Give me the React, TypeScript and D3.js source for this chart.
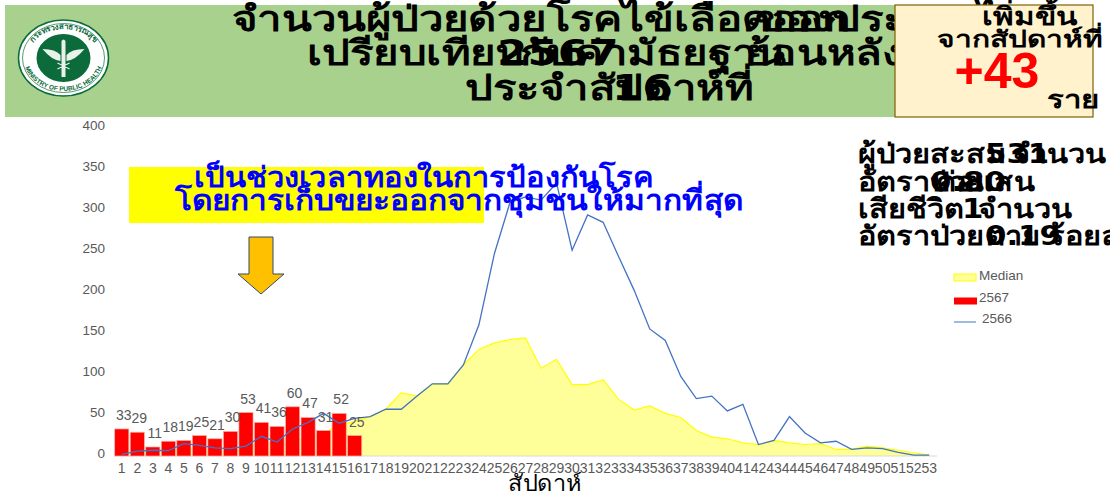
import { useEffect, useRef } from 'react'
import * as d3 from 'd3'

const weeks = d3.range(1, 54).map(String)
const cases2567 = [33, 29, 11, 18, 19, 25, 21, 30, 53, 41, 36, 60, 47, 31, 52, 25]
const cases2566 = [2, 6, 7, 6.5, 15, 13, 10, 9, 12, 24, 17, 33, 41, 52, 40, 46, 48, 57, 57, 73, 88, 88, 111, 160, 247, 309, 316, 312, 333, 251, 294, 285, 243, 202, 155, 141, 97, 70, 73, 55, 63, 14, 19, 48, 28, 16, 18, 8, 10, 9, 4.5, 1, 1]
const median = [4, 5, 6, 6, 8, 9, 9, 10, 12, 14, 16, 18, 22, 28, 38, 42, 48, 57, 77, 73, 88, 88, 111, 130, 138, 142, 144, 107, 118, 87, 87, 93, 69, 56, 61, 52, 47, 31, 23, 21, 16, 14, 19, 16, 14, 15, 8, 8, 12, 10, 7, 4, 1]
const yTicks = [0, 50, 100, 150, 200, 250, 300, 350, 400]
const legendItems = ['Median', '2567', '2566']

const thaiFont = '"DejaVu Sans", "Liberation Sans", "Noto Sans", sans-serif'
const latinFont = '"Liberation Sans", Arial, sans-serif'
const grey = '#595959'

// runs of overlapping text, as they sit on the slide
const titleRuns: [string, number, number][] = [
  ['จำนวนผู้ป่วยด้วยโรคไข้เลือดออก', 232, 31],
  ['ของประเทศไทย', 755, 31],
  ['เปรียบเทียบ', 307, 65],
  ['2567', 497, 65],
  ['กับค่ามัธยฐาน', 520, 65],
  ['ย้อนหลัง', 745, 65],
  ['ประจำสัปดาห์ที่', 465, 100],
  ['16', 612, 100],
]
const summaryRuns: [string, number, number][] = [
  ['ผู้ป่วยสะสม', 858, 163],
  ['531', 985, 163],
  ['จำนวน', 1012, 163],
  ['อัตราป่วย', 858, 191],
  ['0.80', 930, 191],
  ['ต่อแสน', 936, 191],
  ['เสียชีวิต', 858, 218],
  ['1', 962, 218],
  ['จำนวน', 978, 218],
  ['อัตราป่วยตาย', 858, 245],
  ['0.19', 985, 245],
  ['ร้อยละ', 1048, 245],
]

// the slide's Thai face is wider than what is installed, so stretch sideways
function Wide({ x, y, sx, size, fill = '#000', weight = 'bold', anchor = 'start', children }: any) {
  return (
    <text
      transform={`translate(${x},${y}) scale(${sx},1)`}
      textAnchor={anchor}
      fontFamily={thaiFont}
      fontWeight={weight}
      fontSize={size}
      fill={fill}
    >
      {children}
    </text>
  )
}

function Logo() {
  return (
    <g transform="translate(63.5,58)">
      <ellipse rx={45} ry={38} fill="#fff" stroke="#0b6b3a" strokeWidth={1.5} />
      <ellipse rx={41} ry={34.5} fill="none" stroke="#0b6b3a" strokeWidth={0.7} />
      <ellipse rx={27} ry={24} fill="#0b6b3a" />
      <path d="M-21,-9 Q-8,-9 -3,-3 L-3,3 Q-12,2 -21,-9Z M21,-9 Q8,-9 3,-3 L3,3 Q12,2 21,-9Z" fill="#e8f2ea" />
      <path d="M-2,-17 Q0,-20 2,-17 L2,19 L-2,19Z" fill="#e8f2ea" />
      <path d="M-6,5 Q0,9 6,5 M-6,11 Q0,7 6,11" fill="none" stroke="#e8f2ea" strokeWidth={1.2} />
      <defs>
        <path id="logo-top" d="M-36,0 A36,29 0 0 1 36,0" />
        <path id="logo-bottom" d="M-40,0 A40,33 0 0 0 40,0" />
      </defs>
      <text fontSize={8} fontWeight="bold" fill="#0b6b3a" fontFamily={thaiFont}>
        <textPath href="#logo-top" startOffset="50%" textAnchor="middle">กระทรวงสาธารณสุข</textPath>
      </text>
      <text fontSize={6.5} fontWeight="bold" fill="#0b6b3a" fontFamily={latinFont}>
        <textPath href="#logo-bottom" startOffset="50%" textAnchor="middle">MINISTRY OF PUBLIC HEALTH</textPath>
      </text>
    </g>
  )
}

export default function App() {
  const chartRef = useRef<SVGGElement>(null)

  useEffect(() => {
    if (!chartRef.current) return
    const g = d3.select(chartRef.current)
    g.selectAll('*').remove()

    const x = d3.scaleBand<string>().domain(weeks).range([114, 937]).paddingInner(0.09).paddingOuter(0.045)
    const cx = (i: number) => (x(weeks[i]) || 0) + x.bandwidth() / 2
    const y = d3.scaleLinear().domain([0, 400]).range([456, 128])

    // Median area
    const area = d3
      .area<number>()
      .x((_, i) => cx(i))
      .y0(y(0))
      .y1((d) => y(d))
    const medianLine = d3
      .line<number>()
      .x((_, i) => cx(i))
      .y((d) => y(d))
    g.append('path').datum(median).attr('fill', '#ffff99').attr('d', area)
    g.append('path')
      .datum(median)
      .attr('fill', 'none')
      .attr('stroke', '#ffff00')
      .attr('stroke-width', 1.2)
      .attr('d', medianLine)

    // Baseline
    g.append('line')
      .attr('x1', 114)
      .attr('x2', 937)
      .attr('y1', y(0))
      .attr('y2', y(0))
      .attr('stroke', '#d9d9d9')

    // Bars 2567
    g.selectAll('.bar')
      .data(cases2567)
      .enter()
      .append('rect')
      .attr('class', 'bar')
      .attr('x', (_, i) => x(weeks[i]) || 0)
      .attr('y', (d) => y(d))
      .attr('width', x.bandwidth())
      .attr('height', (d) => y(0) - y(d))
      .attr('fill', '#ff0000')
      .attr('stroke', '#ffb0a0')
      .attr('stroke-width', 0.7)

    // Line 2566
    const line2566 = d3
      .line<number>()
      .x((_, i) => cx(i))
      .y((d) => y(d))
    g.append('path')
      .datum(cases2566)
      .attr('fill', 'none')
      .attr('stroke', '#4472c4')
      .attr('stroke-width', 1.3)
      .attr('d', line2566)

    // Bar labels
    g.selectAll('.bar-label')
      .data(cases2567)
      .enter()
      .append('text')
      .attr('class', 'bar-label')
      .attr('x', (_, i) => cx(i) + 2)
      .attr('y', (d) => y(d) - 9)
      .attr('text-anchor', 'middle')
      .attr('font-family', latinFont)
      .attr('font-size', 14)
      .attr('fill', grey)
      .text((d) => d)

    // Axes
    const yAxis = g
      .append('g')
      .attr('transform', 'translate(105,-3)')
      .call(d3.axisLeft(y).tickValues(yTicks).tickSize(0).tickPadding(0))
    yAxis.select('.domain').remove()
    yAxis.selectAll('text').attr('font-family', latinFont).attr('font-size', 13.5).attr('fill', grey)

    const xAxis = g
      .append('g')
      .attr('transform', 'translate(0,460)')
      .call(d3.axisBottom(x).tickSize(0).tickPadding(3))
    xAxis.select('.domain').remove()
    xAxis.selectAll('text').attr('font-family', latinFont).attr('font-size', 14).attr('fill', grey)

    // Legend
    const legend = g.append('g')
    const legendY = d3.scalePoint<string>().domain(legendItems).range([277, 320])
    legend
      .append('rect')
      .attr('x', 954)
      .attr('y', (legendY('Median') || 0) - 3)
      .attr('width', 22)
      .attr('height', 7)
      .attr('fill', '#ffff99')
      .attr('stroke', '#ffff00')
    legend
      .append('rect')
      .attr('x', 954)
      .attr('y', (legendY('2567') || 0) - 1)
      .attr('width', 23)
      .attr('height', 7)
      .attr('fill', '#ff0000')
    legend
      .append('line')
      .attr('x1', 954)
      .attr('x2', 976)
      .attr('y1', (legendY('2566') || 0) + 2)
      .attr('y2', (legendY('2566') || 0) + 2)
      .attr('stroke', '#4472c4')
    legend
      .selectAll('text')
      .data(legendItems)
      .enter()
      .append('text')
      .attr('x', (d) => (d === '2566' ? 982 : 979))
      .attr('y', (d) => (legendY(d) || 0) + 3)
      .attr('font-family', latinFont)
      .attr('font-size', 13.5)
      .attr('fill', grey)
      .text((d) => d)
  }, [])

  return (
    <svg width={1110} height={497} style={{ position: 'absolute', left: 0, top: 0, background: '#fff' }}>
      <rect x={5} y={5} width={890} height={112} fill="#a9d18e" />
      <Logo />

      {titleRuns.map(([t, tx, ty], i) => (
        <Wide key={i} x={tx} y={ty} sx={1.25} size={35}>{t}</Wide>
      ))}

      <rect x={895} y={5} width={198} height={112} fill="#fff2cc" stroke="#7f6000" strokeWidth={1.2} />
      <Wide x={1029} y={25} sx={1.25} size={25} anchor="middle">เพิ่มขึ้น</Wide>
      <Wide x={937} y={47} sx={1.3} size={23}>จากสัปดาห์ที่</Wide>
      <text x={997} y={88} textAnchor="middle" fontFamily={latinFont} fontWeight="bold" fontSize={50} fill="#ff0000">+43</text>
      <Wide x={1047} y={108} sx={1.25} size={25}>ราย</Wide>

      <rect x={129} y={167} width={355} height={56} fill="#ffff00" />
      <g ref={chartRef} />

      <Wide x={424} y={187} sx={1.1} size={28} fill="#0000ff" anchor="middle">เป็นช่วงเวลาทองในการป้องกันโรค</Wide>
      <Wide x={459} y={210} sx={1.13} size={28} fill="#0000ff" anchor="middle">โดยการเก็บขยะออกจากชุมชนให้มากที่สุด</Wide>
      <path d="M249,237 H273 V274 H284 L261,294 L238,274 H249Z" fill="#ffc000" stroke="#2f4b6e" strokeWidth={1} />

      {summaryRuns.map(([t, tx, ty], i) => (
        <Wide key={i} x={tx} y={ty} sx={1.14} size={27}>{t}</Wide>
      ))}

      <Wide x={545} y={491} sx={1.07} size={22} weight="normal" anchor="middle">สัปดาห์</Wide>
    </svg>
  )
}
